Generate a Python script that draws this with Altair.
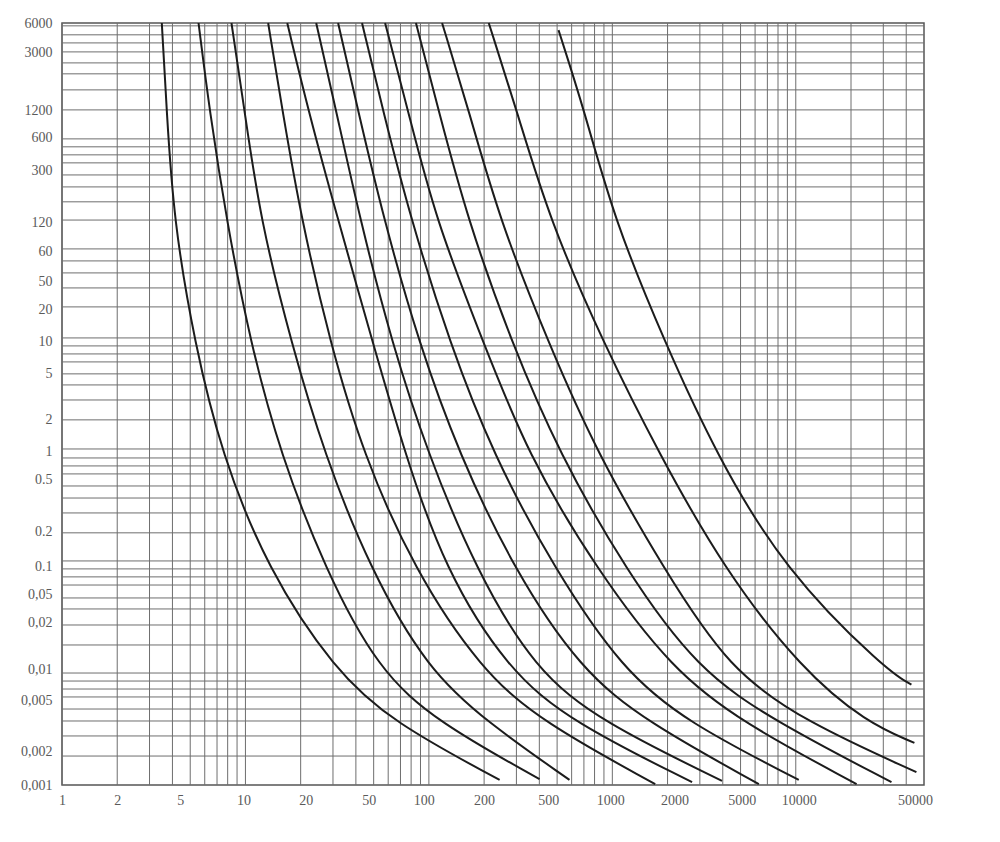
import altair as alt
import pandas as pd

# Time-current characteristic curves (current in A on x, time in s on y)
c1_current = [3.5, 3.72, 4.06, 5.28, 7.41, 13.2, 30.5, 63.7, 243]
c1_time = [6000, 1000, 106, 8.5, 0.88, 0.083, 0.0106, 0.0036, 0.00111]

c2_current = [5.55, 6.37, 7.88, 10.65, 15.5, 27.2, 52.8, 112, 401]
c2_time = [6000, 1000, 106, 8.5, 0.88, 0.083, 0.0106, 0.0036, 0.00113]

c3_current = [8.39, 9.88, 12.06, 17.8, 26.9, 47.8, 98.8, 209, 584]
c3_time = [6000, 1000, 106, 8.5, 0.88, 0.083, 0.0106, 0.0036, 0.00111]

c4_current = [13.3, 15.9, 20.2, 29.0, 43.8, 82.9, 192, 417, 1713]
c4_time = [6000, 1000, 106, 8.5, 0.88, 0.083, 0.0106, 0.0036, 0.00102]

c5_current = [16.9, 22.0, 32.0, 49.6, 74.1, 122, 269, 606, 2721]
c5_time = [6000, 1000, 106, 8.5, 0.88, 0.083, 0.0106, 0.0036, 0.00106]

c6_current = [24.3, 31.2, 42.2, 62.9, 98.8, 180, 377, 883, 3961]
c6_time = [6000, 1000, 106, 8.5, 0.88, 0.083, 0.0106, 0.0036, 0.00109]

c7_current = [32.0, 41.1, 56.9, 88.2, 146, 290, 670, 1550, 6293]
c7_time = [6000, 1000, 106, 8.5, 0.88, 0.083, 0.0106, 0.0036, 0.00102]

c8_current = [43.2, 56.2, 79.9, 130, 223, 484, 1133, 2556, 10383]
c8_time = [6000, 1000, 106, 8.5, 0.88, 0.083, 0.0106, 0.0036, 0.00111]

c9_current = [57.7, 76.9, 109, 199, 345, 818, 2119, 5088, 21460]
c9_time = [6000, 1000, 106, 8.5, 0.88, 0.083, 0.0106, 0.0036, 0.00102]

c10_current = [85.0, 113, 163, 283, 515, 1177, 2897, 7883, 33240]
c10_time = [6000, 1000, 106, 8.5, 0.88, 0.083, 0.0106, 0.0036, 0.00106]

c11_current = [118, 165, 243, 449, 829, 1917, 4324, 11477, 45460]
c11_time = [6000, 1000, 106, 8.5, 0.88, 0.083, 0.0106, 0.0036, 0.0013]

c12_current = [212, 301, 455, 894, 1801, 4062, 10780, 24310, 44330]
c12_time = [6000, 1000, 106, 8.5, 0.88, 0.083, 0.0106, 0.0036, 0.00237]

c13_current = [509, 704, 1025, 1941, 3675, 8606, 30840, 42700]
c13_time = [5180, 1000, 106, 8.5, 0.88, 0.083, 0.0106, 0.0078]

curves = [
    (c1_current, c1_time), (c2_current, c2_time), (c3_current, c3_time),
    (c4_current, c4_time), (c5_current, c5_time), (c6_current, c6_time),
    (c7_current, c7_time), (c8_current, c8_time), (c9_current, c9_time),
    (c10_current, c10_time), (c11_current, c11_time), (c12_current, c12_time),
    (c13_current, c13_time),
]

# Axis tick positions (as placed on the printed sheet) and their printed labels
x_tick_positions = [1, 2, 4.41, 9.75, 21.3, 47.0, 93.9, 200, 447, 975, 2180, 5070, 10380, 44700]
x_tick_labels = ["1", "2", "5", "10", "20", "50", "100", "200", "500", "1000", "2000",
                 "5000", "10000", "50000"]
y_tick_positions = [6000, 3300, 1000, 570, 290, 100, 56, 30, 17, 8.8, 4.6, 1.8,
                    0.92, 0.52, 0.18, 0.088, 0.05, 0.028, 0.0106, 0.0056, 0.002, 0.001]
y_tick_labels = ["6000", "3000", "1200", "600", "300", "120", "60", "50", "20", "10", "5", "2",
                 "1", "0.5", "0.2", "0.1", "0,05", "0,02", "0,01", "0,005", "0,002", "0,001"]

# Grid lines of the chart paper
x_grid = [1, 2, 3, 4, 5, 6, 7, 8, 9,
          10, 20, 30, 40, 50, 60, 70, 80, 90,
          100, 200, 300, 400, 500, 600, 700, 800, 900,
          1000, 2000, 3000, 4000, 5000, 6000, 7000, 8000, 9000,
          10000, 20000, 30000, 40000]
y_grid = [5660, 4710, 3990, 3320, 2650, 2118, 1525, 1012,
          559, 475, 403, 342, 267, 209, 154, 106,
          58.7, 45.9, 35.9, 26.4, 17.9,
          9.48, 8.05, 6.83, 5.80, 4.54, 3.62, 2.66, 1.77,
          0.975, 0.811, 0.689, 0.585, 0.457, 0.357, 0.263, 0.175,
          0.0984, 0.0836, 0.0710, 0.0601, 0.0461, 0.0368, 0.0265, 0.0176,
          0.00991, 0.00841, 0.00714, 0.00607, 0.00474, 0.00371, 0.00273, 0.00181]

rows = []
for i, (cur, tim) in enumerate(curves):
    for j, (c, t) in enumerate(zip(cur, tim)):
        rows.append({"curve": f"c{i+1}", "order": j, "current": c, "time": t})
df = pd.DataFrame(rows)

xscale = alt.Scale(type="log", domain=[1, 50000], nice=False)
yscale = alt.Scale(type="log", domain=[0.001, 6000], nice=False)


def lookup_expr(positions, labels):
    return ("[" + ",".join(f"'{s}'" for s in labels) + "]"
            + "[indexof([" + ",".join(str(v) for v in positions) + "], datum.value)]")


grid_color = "#6e6e6e"
label_font = "Liberation Serif"
label_color = "#5a5a5a"

x_axis = alt.Axis(values=x_tick_positions, labelExpr=lookup_expr(x_tick_positions, x_tick_labels),
                  grid=False, ticks=False, domain=False, title=None, labelFlush=False,
                  labelFont=label_font, labelFontSize=14, labelColor=label_color,
                  labelPadding=8)
y_axis = alt.Axis(values=y_tick_positions, labelExpr=lookup_expr(y_tick_positions, y_tick_labels),
                  grid=False, ticks=False, domain=False, title=None, labelFlush=False,
                  labelFont=label_font, labelFontSize=14, labelColor=label_color,
                  labelPadding=10)

xgrid = alt.Chart(pd.DataFrame({"gx": x_grid})).mark_rule(
    color=grid_color, strokeWidth=1
).encode(x=alt.X("gx:Q", scale=xscale, axis=x_axis))

ygrid = alt.Chart(pd.DataFrame({"gy": y_grid})).mark_rule(
    color=grid_color, strokeWidth=1
).encode(y=alt.Y("gy:Q", scale=yscale, axis=y_axis))

lines = alt.Chart(df).mark_line(
    color="#1c1c1c", strokeWidth=2, interpolate="basis"
).encode(
    x=alt.X("current:Q", scale=xscale, axis=x_axis),
    y=alt.Y("time:Q", scale=yscale, axis=y_axis),
    detail="curve:N",
    order="order:Q",
)

chart = alt.layer(xgrid, ygrid, lines).properties(
    width=862, height=762,
    padding={"left": 12, "top": 8, "right": 10, "bottom": 10},
    background="white",
).configure_view(stroke="#555555", strokeWidth=1.5)

chart.save("out.html", embed_options={"renderer": "svg", "actions": False})
